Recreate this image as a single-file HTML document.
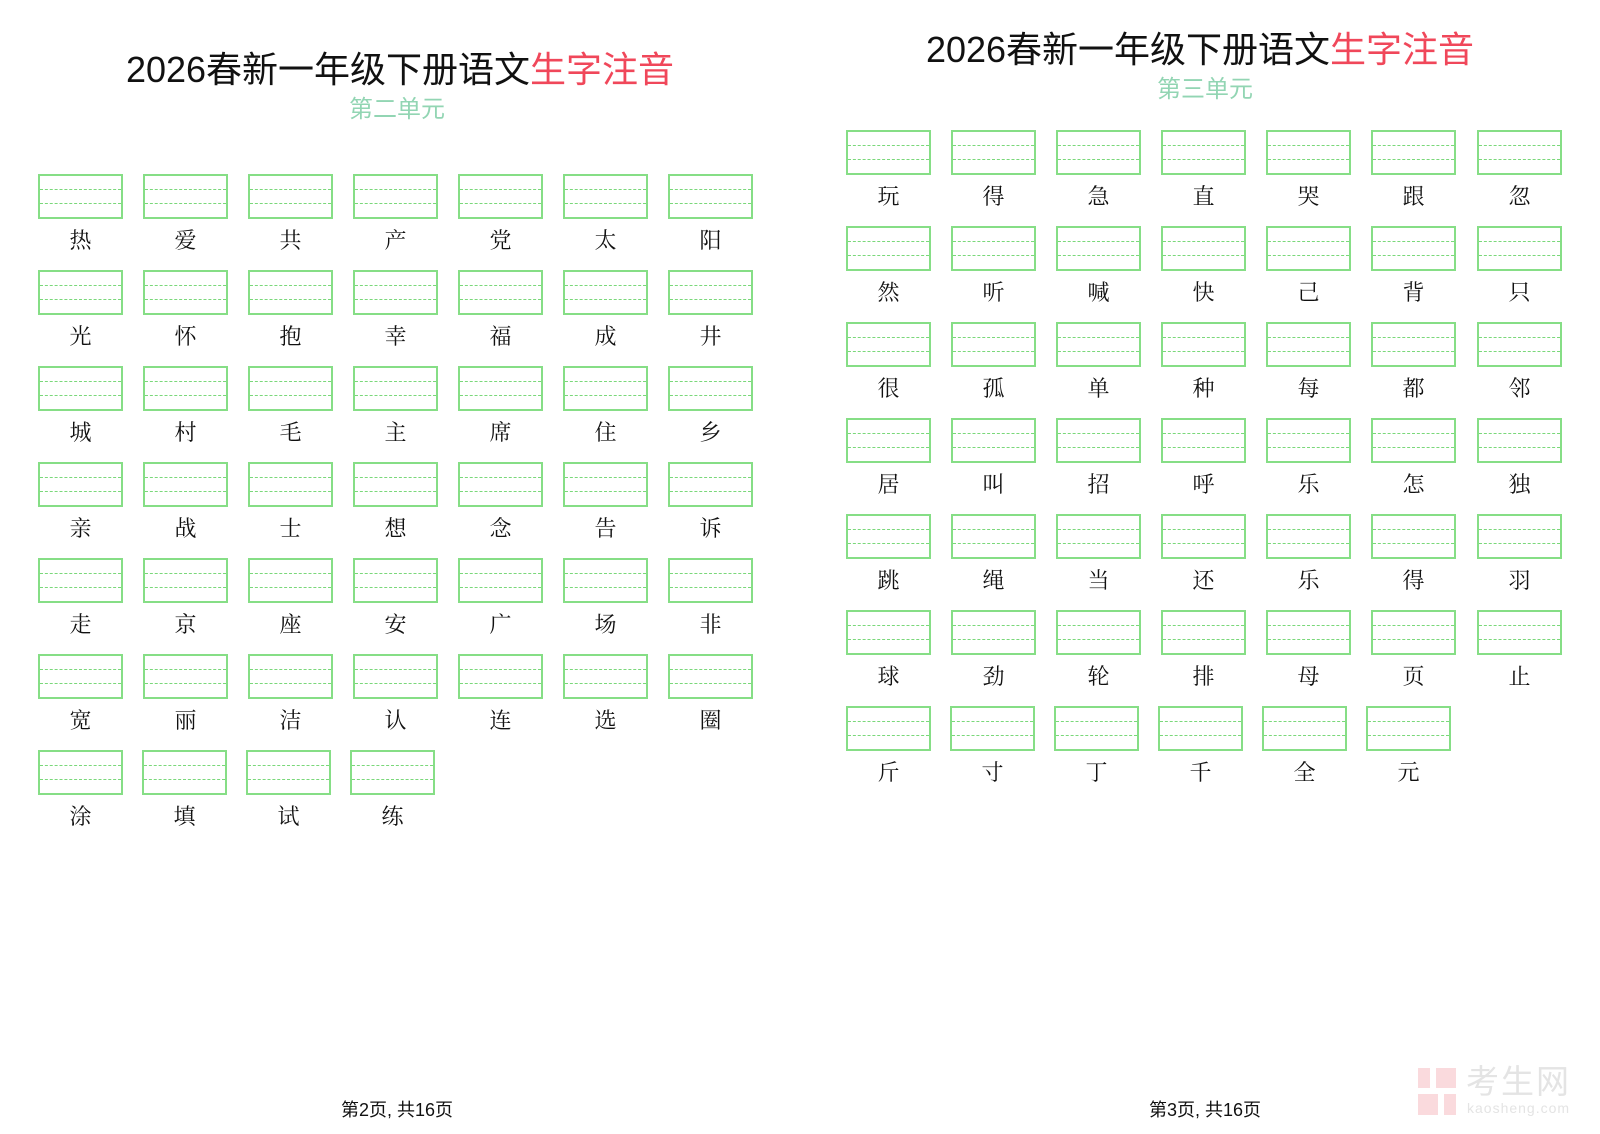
<!DOCTYPE html>
<html><head><meta charset="utf-8"><style>
body{margin:0;width:1600px;height:1134px;background:#fff;position:relative;overflow:hidden;font-family:"Liberation Sans","Noto Sans CJK SC",sans-serif}
.c{position:absolute;width:85px;height:80px}
.b{position:absolute;left:0;top:0;width:81px;height:41px;border:2px solid #86de86}
.b:before,.b:after{content:"";position:absolute;left:0;right:0;border-top:1.5px dashed #7ad87a}
.b:before{top:13px}.b:after{top:27px}
.t{position:absolute;left:0;width:85px;top:53px;text-align:center;font-family:"Noto Serif CJK SC",serif;font-size:22px;line-height:26px;color:#111}
.h{position:absolute;font-size:36px;color:#111;white-space:nowrap;text-align:center;width:800px;line-height:40px}
.h span{color:#f0475a}
.s{position:absolute;font-size:24px;color:#92d5b3;text-align:center;width:800px;line-height:28px}
.f{position:absolute;font-size:18px;color:#111;text-align:center;width:300px;line-height:22px}
</style></head><body>
<div class="h" style="left:0;top:50px">2026春新一年级下册语文<span>生字注音</span></div>
<div class="s" style="left:-3px;top:96px">第二单元</div>
<div class="h" style="left:800px;top:30px">2026春新一年级下册语文<span>生字注音</span></div>
<div class="s" style="left:805px;top:76px">第三单元</div>

<div class="c" style="left:38px;top:174px"><div class="b"></div><div class="t">热</div></div>
<div class="c" style="left:143px;top:174px"><div class="b"></div><div class="t">爱</div></div>
<div class="c" style="left:248px;top:174px"><div class="b"></div><div class="t">共</div></div>
<div class="c" style="left:353px;top:174px"><div class="b"></div><div class="t">产</div></div>
<div class="c" style="left:458px;top:174px"><div class="b"></div><div class="t">党</div></div>
<div class="c" style="left:563px;top:174px"><div class="b"></div><div class="t">太</div></div>
<div class="c" style="left:668px;top:174px"><div class="b"></div><div class="t">阳</div></div>

<div class="c" style="left:38px;top:270px"><div class="b"></div><div class="t">光</div></div>
<div class="c" style="left:143px;top:270px"><div class="b"></div><div class="t">怀</div></div>
<div class="c" style="left:248px;top:270px"><div class="b"></div><div class="t">抱</div></div>
<div class="c" style="left:353px;top:270px"><div class="b"></div><div class="t">幸</div></div>
<div class="c" style="left:458px;top:270px"><div class="b"></div><div class="t">福</div></div>
<div class="c" style="left:563px;top:270px"><div class="b"></div><div class="t">成</div></div>
<div class="c" style="left:668px;top:270px"><div class="b"></div><div class="t">井</div></div>

<div class="c" style="left:38px;top:366px"><div class="b"></div><div class="t">城</div></div>
<div class="c" style="left:143px;top:366px"><div class="b"></div><div class="t">村</div></div>
<div class="c" style="left:248px;top:366px"><div class="b"></div><div class="t">毛</div></div>
<div class="c" style="left:353px;top:366px"><div class="b"></div><div class="t">主</div></div>
<div class="c" style="left:458px;top:366px"><div class="b"></div><div class="t">席</div></div>
<div class="c" style="left:563px;top:366px"><div class="b"></div><div class="t">住</div></div>
<div class="c" style="left:668px;top:366px"><div class="b"></div><div class="t">乡</div></div>

<div class="c" style="left:38px;top:462px"><div class="b"></div><div class="t">亲</div></div>
<div class="c" style="left:143px;top:462px"><div class="b"></div><div class="t">战</div></div>
<div class="c" style="left:248px;top:462px"><div class="b"></div><div class="t">士</div></div>
<div class="c" style="left:353px;top:462px"><div class="b"></div><div class="t">想</div></div>
<div class="c" style="left:458px;top:462px"><div class="b"></div><div class="t">念</div></div>
<div class="c" style="left:563px;top:462px"><div class="b"></div><div class="t">告</div></div>
<div class="c" style="left:668px;top:462px"><div class="b"></div><div class="t">诉</div></div>

<div class="c" style="left:38px;top:558px"><div class="b"></div><div class="t">走</div></div>
<div class="c" style="left:143px;top:558px"><div class="b"></div><div class="t">京</div></div>
<div class="c" style="left:248px;top:558px"><div class="b"></div><div class="t">座</div></div>
<div class="c" style="left:353px;top:558px"><div class="b"></div><div class="t">安</div></div>
<div class="c" style="left:458px;top:558px"><div class="b"></div><div class="t">广</div></div>
<div class="c" style="left:563px;top:558px"><div class="b"></div><div class="t">场</div></div>
<div class="c" style="left:668px;top:558px"><div class="b"></div><div class="t">非</div></div>

<div class="c" style="left:38px;top:654px"><div class="b"></div><div class="t">宽</div></div>
<div class="c" style="left:143px;top:654px"><div class="b"></div><div class="t">丽</div></div>
<div class="c" style="left:248px;top:654px"><div class="b"></div><div class="t">洁</div></div>
<div class="c" style="left:353px;top:654px"><div class="b"></div><div class="t">认</div></div>
<div class="c" style="left:458px;top:654px"><div class="b"></div><div class="t">连</div></div>
<div class="c" style="left:563px;top:654px"><div class="b"></div><div class="t">选</div></div>
<div class="c" style="left:668px;top:654px"><div class="b"></div><div class="t">圈</div></div>

<div class="c" style="left:38px;top:750px"><div class="b"></div><div class="t">涂</div></div>
<div class="c" style="left:142px;top:750px"><div class="b"></div><div class="t">填</div></div>
<div class="c" style="left:246px;top:750px"><div class="b"></div><div class="t">试</div></div>
<div class="c" style="left:350px;top:750px"><div class="b"></div><div class="t">练</div></div>

<div class="c" style="left:846px;top:130px"><div class="b"></div><div class="t">玩</div></div>
<div class="c" style="left:951px;top:130px"><div class="b"></div><div class="t">得</div></div>
<div class="c" style="left:1056px;top:130px"><div class="b"></div><div class="t">急</div></div>
<div class="c" style="left:1161px;top:130px"><div class="b"></div><div class="t">直</div></div>
<div class="c" style="left:1266px;top:130px"><div class="b"></div><div class="t">哭</div></div>
<div class="c" style="left:1371px;top:130px"><div class="b"></div><div class="t">跟</div></div>
<div class="c" style="left:1477px;top:130px"><div class="b"></div><div class="t">忽</div></div>

<div class="c" style="left:846px;top:226px"><div class="b"></div><div class="t">然</div></div>
<div class="c" style="left:951px;top:226px"><div class="b"></div><div class="t">听</div></div>
<div class="c" style="left:1056px;top:226px"><div class="b"></div><div class="t">喊</div></div>
<div class="c" style="left:1161px;top:226px"><div class="b"></div><div class="t">快</div></div>
<div class="c" style="left:1266px;top:226px"><div class="b"></div><div class="t">己</div></div>
<div class="c" style="left:1371px;top:226px"><div class="b"></div><div class="t">背</div></div>
<div class="c" style="left:1477px;top:226px"><div class="b"></div><div class="t">只</div></div>

<div class="c" style="left:846px;top:322px"><div class="b"></div><div class="t">很</div></div>
<div class="c" style="left:951px;top:322px"><div class="b"></div><div class="t">孤</div></div>
<div class="c" style="left:1056px;top:322px"><div class="b"></div><div class="t">单</div></div>
<div class="c" style="left:1161px;top:322px"><div class="b"></div><div class="t">种</div></div>
<div class="c" style="left:1266px;top:322px"><div class="b"></div><div class="t">每</div></div>
<div class="c" style="left:1371px;top:322px"><div class="b"></div><div class="t">都</div></div>
<div class="c" style="left:1477px;top:322px"><div class="b"></div><div class="t">邻</div></div>

<div class="c" style="left:846px;top:418px"><div class="b"></div><div class="t">居</div></div>
<div class="c" style="left:951px;top:418px"><div class="b"></div><div class="t">叫</div></div>
<div class="c" style="left:1056px;top:418px"><div class="b"></div><div class="t">招</div></div>
<div class="c" style="left:1161px;top:418px"><div class="b"></div><div class="t">呼</div></div>
<div class="c" style="left:1266px;top:418px"><div class="b"></div><div class="t">乐</div></div>
<div class="c" style="left:1371px;top:418px"><div class="b"></div><div class="t">怎</div></div>
<div class="c" style="left:1477px;top:418px"><div class="b"></div><div class="t">独</div></div>

<div class="c" style="left:846px;top:514px"><div class="b"></div><div class="t">跳</div></div>
<div class="c" style="left:951px;top:514px"><div class="b"></div><div class="t">绳</div></div>
<div class="c" style="left:1056px;top:514px"><div class="b"></div><div class="t">当</div></div>
<div class="c" style="left:1161px;top:514px"><div class="b"></div><div class="t">还</div></div>
<div class="c" style="left:1266px;top:514px"><div class="b"></div><div class="t">乐</div></div>
<div class="c" style="left:1371px;top:514px"><div class="b"></div><div class="t">得</div></div>
<div class="c" style="left:1477px;top:514px"><div class="b"></div><div class="t">羽</div></div>

<div class="c" style="left:846px;top:610px"><div class="b"></div><div class="t">球</div></div>
<div class="c" style="left:951px;top:610px"><div class="b"></div><div class="t">劲</div></div>
<div class="c" style="left:1056px;top:610px"><div class="b"></div><div class="t">轮</div></div>
<div class="c" style="left:1161px;top:610px"><div class="b"></div><div class="t">排</div></div>
<div class="c" style="left:1266px;top:610px"><div class="b"></div><div class="t">母</div></div>
<div class="c" style="left:1371px;top:610px"><div class="b"></div><div class="t">页</div></div>
<div class="c" style="left:1477px;top:610px"><div class="b"></div><div class="t">止</div></div>

<div class="c" style="left:846px;top:706px"><div class="b"></div><div class="t">斤</div></div>
<div class="c" style="left:950px;top:706px"><div class="b"></div><div class="t">寸</div></div>
<div class="c" style="left:1054px;top:706px"><div class="b"></div><div class="t">丁</div></div>
<div class="c" style="left:1158px;top:706px"><div class="b"></div><div class="t">千</div></div>
<div class="c" style="left:1262px;top:706px"><div class="b"></div><div class="t">全</div></div>
<div class="c" style="left:1366px;top:706px"><div class="b"></div><div class="t">元</div></div>

<div class="f" style="left:247px;top:1099px">第2页, 共16页</div>
<div class="f" style="left:1055px;top:1099px">第3页, 共16页</div>

<div style="position:absolute;left:1418px;top:1068px;width:40px;height:47px">
<div style="position:absolute;left:0;top:0;width:12px;height:20px;background:#fadadd"></div>
<div style="position:absolute;left:18px;top:0;width:20px;height:20px;background:#fadadd"></div>
<div style="position:absolute;left:0;top:26px;width:20px;height:21px;background:#fadadd"></div>
<div style="position:absolute;left:26px;top:26px;width:12px;height:21px;background:#fadadd"></div>
</div>
<div style="position:absolute;left:1466px;top:1064px;font-size:33px;color:#e4e4e4;line-height:36px;letter-spacing:2px">考生网</div>
<div style="position:absolute;left:1467px;top:1100px;font-size:14px;color:#e4e4e4;line-height:16px;letter-spacing:1px">kaosheng.com</div>
</body></html>
